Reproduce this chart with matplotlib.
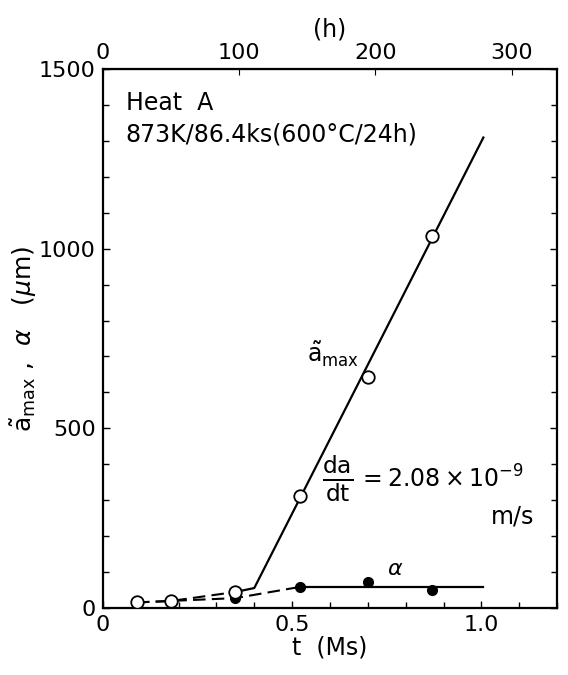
import matplotlib.pyplot as plt
from matplotlib.ticker import MultipleLocator
import numpy as np

# measured points (t in Ms, size in micrometres)
t_amax = [0.09, 0.18, 0.35, 0.52, 0.70, 0.87]
amax = [16, 20, 45, 312, 643, 1036]
t_alpha = [0.35, 0.52, 0.70, 0.87]
alpha = [28, 59, 73, 50]

# fitted / guide lines
t_amax_dash = [0.09, 0.18, 0.35]
amax_dash = [16, 20, 45]
t_amax_fit = [0.35, 0.40, 1.005]
amax_fit = [45, 56, 1309]
t_alpha_dash = [0.09, 0.35, 0.52]
alpha_dash = [16, 28, 59]
t_alpha_fit = [0.52, 1.005]
alpha_fit = [59, 59]

hour_ticks = [0, 100, 200, 300]


def ms_to_h(x):
    return np.asarray(x) / 0.0036


def h_to_ms(x):
    return np.asarray(x) * 0.0036


def plot():
    plt.rcParams['font.family'] = ['DejaVu Sans']
    plt.rcParams['mathtext.fontset'] = 'dejavusans'

    fig = plt.figure(figsize=(5.68, 6.75), dpi=100)
    ax = fig.add_axes([0.181, 0.099, 0.800, 0.799])

    ax.plot(t_amax_dash, amax_dash, 'k--', lw=1.5, dashes=(6, 3))
    ax.plot(t_alpha_dash, alpha_dash, 'k--', lw=1.5, dashes=(6, 3))
    ax.plot(t_amax_fit, amax_fit, 'k-', lw=1.6)
    ax.plot(t_alpha_fit, alpha_fit, 'k-', lw=1.6)
    ax.plot(t_alpha, alpha, 'o', color='k', ms=7, zorder=3)
    ax.plot(t_amax, amax, 'o', mfc='white', mec='k', mew=1.3, ms=9, zorder=4)

    ax.set_xlim(0, 1.2)
    ax.set_ylim(0, 1500)
    ax.set_xticks([0, 0.5, 1.0])
    ax.set_xticklabels(['0', '0.5', '1.0'])
    ax.set_yticks([0, 500, 1000, 1500])
    ax.xaxis.set_minor_locator(MultipleLocator(0.1))
    ax.yaxis.set_minor_locator(MultipleLocator(100))
    ax.tick_params(which='both', direction='in', right=True, labelsize=16, width=1)
    ax.tick_params(which='major', length=5)
    ax.tick_params(which='minor', length=4)
    ax.tick_params(axis='y', pad=5)
    ax.tick_params(axis='x', pad=5)
    for s in ax.spines.values():
        s.set_linewidth(1.6)

    ax.set_xlabel('t  (Ms)', fontsize=17, labelpad=0)
    ax.set_ylabel(r'$\tilde{\mathrm{a}}_{\mathrm{max}}$ ,  $\alpha$   ($\mu$m)', fontsize=18, labelpad=0)

    sec = ax.secondary_xaxis('top', functions=(ms_to_h, h_to_ms))
    sec.set_xticks(hour_ticks)
    sec.tick_params(direction='in', labelsize=16, length=4, pad=4)
    sec.set_xlabel('(h)', fontsize=17, labelpad=5)

    ax.text(0.06, 1405, 'Heat  A', fontsize=17, va='center')
    ax.text(0.06, 1318, '873K/86.4ks(600°C/24h)', fontsize=17, va='center')
    ax.text(0.54, 705, r'$\tilde{\mathrm{a}}_{\mathrm{max}}$', fontsize=17, va='center')
    ax.text(0.75, 110, r'$\alpha$', fontsize=16, va='center')
    ax.text(0.58, 360, r'$\frac{\mathrm{da}}{\mathrm{dt}}$', fontsize=24, va='center')
    ax.text(0.675, 360, r'$=2.08\times10^{-9}$', fontsize=17, va='center')
    ax.text(1.14, 255, 'm/s', fontsize=17, va='center', ha='right')

    fig.savefig('out.png', dpi=100)


def main():
    plot()


if __name__ == "__main__":
    main()
